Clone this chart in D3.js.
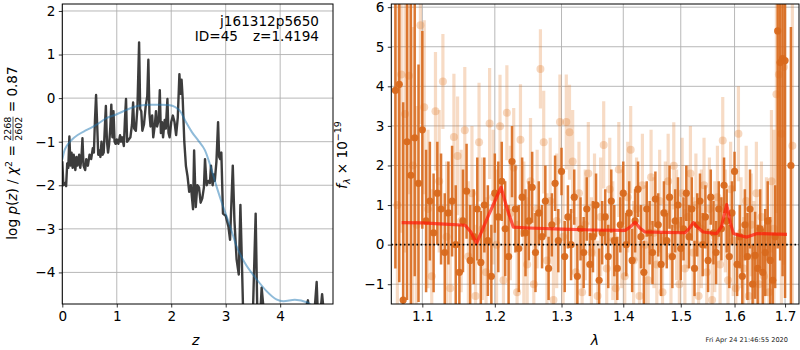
<!DOCTYPE html>
<html><head><meta charset="utf-8">
<script src="https://cdn.jsdelivr.net/npm/d3@7"></script>
<style>body{margin:0;background:#fff} text{font-family:"DejaVu Sans",sans-serif}</style>
</head><body><svg id="c" width="800" height="350"></svg>
<script>
// ---------- Left panel data: log p(z) ----------
const zPdf = [0.00,0.02,0.05,0.07,0.09,0.11,0.13,0.15,0.17,0.19,0.21,0.24,0.26,0.28,0.31,0.33,0.35,0.37,0.39,0.42,0.44,0.47,0.50,0.53,0.56,0.58,0.60,0.62,0.64,0.66,0.68,0.70,0.72,0.74,0.76,0.78,0.80,0.82,0.84,0.86,0.88,0.90,0.92,0.94,0.96,0.98,1.00,1.03,1.06,1.08,1.10,1.13,1.15,1.17,1.19,1.22,1.25,1.28,1.30,1.32,1.35,1.38,1.41,1.43,1.45,1.47,1.50,1.53,1.56,1.58,1.60,1.62,1.65,1.67,1.70,1.72,1.74,1.77,1.79,1.81,1.83,1.85,1.88,1.90,1.93,1.95,1.97,2.00,2.03,2.06,2.09,2.12,2.15,2.17,2.19,2.21,2.24,2.27,2.30,2.33,2.36,2.40,2.42,2.45,2.48,2.51,2.54,2.57,2.60,2.62,2.65,2.68,2.71,2.73,2.76,2.78,2.80,2.83,2.86,2.88,2.90,2.92,2.95,3.00,3.05,3.08,3.13,3.16,3.20,3.24,3.27,3.30,3.32,3.40,3.45,3.50,3.55,3.58,3.64,3.66,3.70,4.45,4.51,4.53,4.63,4.67,4.69,4.74,4.77,4.80,4.97];
const logPdf = [-1.45,-2.00,-1.95,-2.02,-1.50,-1.60,-0.88,-1.55,-1.25,-1.60,-1.30,-1.65,-1.35,-1.55,-1.30,-1.60,-1.40,-0.92,-1.55,-1.65,-1.40,-1.55,-1.30,-1.40,-1.15,-1.25,-0.50,0.07,-0.60,-1.30,-1.20,-1.35,-1.00,-1.30,-1.25,-0.70,-0.18,-1.00,-1.25,-1.05,-0.70,-0.15,-0.90,-0.30,-1.00,-1.05,-0.95,-1.05,-0.85,-1.00,-0.90,-1.10,-0.50,-0.02,-1.00,-0.95,-0.90,-0.60,-0.10,-0.70,-0.75,-0.20,1.28,-0.25,-0.30,-0.75,-0.60,-0.20,0.05,0.88,-0.35,-0.65,-0.40,-0.90,-0.60,-0.30,-0.65,-0.50,0.18,-0.80,-0.55,-0.90,-0.50,-0.70,-0.02,-0.80,-0.90,-0.55,-0.40,-0.55,-0.85,-0.45,0.55,0.10,0.42,0.00,-1.00,-1.56,-1.80,-2.15,-2.00,-2.55,-1.20,-2.50,-2.00,-2.05,-2.40,-2.30,-2.05,-1.40,-2.00,-1.90,-1.95,-1.55,-2.00,-1.75,-1.90,-1.45,-0.55,-1.35,-1.40,-1.25,-2.65,-2.70,-2.95,-3.25,-1.55,-2.80,-3.70,-4.05,-2.45,-3.90,-4.90,-4.90,-4.80,-4.90,-2.65,-4.90,-4.85,-4.35,-4.90,-4.90,-4.64,-4.90,-4.90,-4.22,-4.90,-4.90,-4.50,-4.90,-4.90];
const zSmooth = [0.00,0.04,0.08,0.18,0.29,0.45,0.63,0.81,1.00,1.18,1.30,1.43,1.60,1.79,1.95,2.08,2.16,2.27,2.38,2.50,2.62,2.74,2.83,2.95,3.08,3.20,3.35,3.57,3.75,3.93,4.06,4.27,4.50,4.62];
const logPSmooth = [-1.41,-1.20,-1.10,-0.95,-0.84,-0.73,-0.61,-0.46,-0.37,-0.27,-0.21,-0.17,-0.15,-0.15,-0.16,-0.21,-0.29,-0.55,-0.78,-0.98,-1.20,-1.64,-2.02,-2.48,-2.94,-3.40,-3.78,-4.16,-4.43,-4.62,-4.66,-4.63,-4.69,-4.80];
const zTicks = [0,1,2,3,4];
const pTicks = [-4,-3,-2,-1,0,1,2];

// ---------- Right panel data: spectrum ----------
const lamA = [1.065,1.070,1.075,1.080,1.085,1.090,1.095,1.100,1.105,1.110,1.115,1.120,1.125,1.130,1.135,1.140,1.145,1.150,1.155,1.160,1.165,1.170,1.175,1.180,1.185,1.190,1.195,1.200,1.205,1.210,1.215,1.220,1.225,1.230,1.235,1.240,1.245,1.250,1.255,1.260,1.265,1.270,1.275,1.280,1.285,1.290,1.295,1.300,1.305,1.310,1.315,1.320,1.325,1.330,1.335,1.340,1.345,1.350,1.355,1.360,1.365,1.370,1.375,1.380,1.385,1.390,1.395,1.400,1.405,1.410,1.415,1.420,1.425,1.430,1.435,1.440,1.445,1.450,1.455,1.460,1.465,1.470,1.475,1.480,1.485,1.490,1.495,1.500,1.505,1.510,1.515,1.520,1.525,1.530,1.535,1.540,1.545,1.550,1.555,1.560,1.565,1.570,1.575,1.580,1.585,1.590,1.595,1.600,1.605,1.610,1.615,1.620,1.625,1.630,1.635,1.640,1.645,1.650,1.655,1.660,1.665,1.670,1.675,1.680,1.685,1.690,1.695,1.700,1.712];
const fluxA = [3.9,4.05,-1.4,2.6,1.75,2.7,1.55,2.9,0.6,1.1,0.3,1.3,0.9,-0.2,0.8,1.1,0.0,-0.7,0.6,1.35,-0.4,0.2,0.9,-0.45,1.0,0.1,-0.8,1.3,0.7,1.6,0.4,-0.3,2.1,0.9,-0.1,1.2,0.3,0.6,1.45,-0.2,0.8,0.2,1.1,-0.6,0.5,1.55,0.1,1.85,-0.3,0.7,0.0,1.2,-0.8,0.4,-0.2,0.9,-0.5,0.2,1.0,-0.9,0.3,0.7,-0.3,1.1,0.1,-0.6,0.5,1.3,0.0,0.8,-0.4,0.6,1.4,0.2,-0.7,0.9,0.3,-0.2,1.15,0.5,-0.5,0.8,0.1,1.2,-0.3,0.6,1.0,-0.1,0.4,1.3,0.2,0.9,-0.6,0.5,1.1,0.0,0.7,-0.4,1.2,0.3,-0.2,0.9,0.4,1.5,0.6,-0.3,0.8,1.85,-0.5,0.2,-0.8,0.5,-0.3,0.9,-1.0,-0.27,-0.6,0.4,-0.7,-0.2,0.6,-0.4,-0.9,0.2,5.4,4.6,4.7,4.65,2.0];
const errA = [4.5,5,5,4,4.5,3.5,3,2.5,1.8,1.5,
  1.5,1.3,1.4,1.5,1.3,1.4,1.5,1.2,1.3,1.2,
  1.4,1.2,1.3,1.3,1.2,1.4,1.3,1.0,1.4,1.0,
  1.2,1.3,0.9,1.1,1.1,1.0,1.1,1.0,0.9,1.0,
  0.8,0.8,0.9,0.8,0.8,0.7,0.8,0.6,0.9,0.8,
  0.9,0.7,0.8,0.8,0.9,0.8,0.8,0.9,0.8,0.8,
  0.8,0.7,0.8,0.8,0.9,0.8,0.7,0.8,0.8,0.8,
  0.8,0.8,0.7,0.8,0.8,0.7,0.8,0.8,0.7,0.8,
  0.8,0.8,0.7,0.8,0.8,0.8,0.7,0.8,0.8,0.7,
  0.8,0.8,0.7,0.8,0.7,0.8,0.8,0.8,0.7,0.8,
  0.8,0.7,0.8,0.7,0.8,0.8,0.8,0.5,0.8,0.8,
  1.0,0.9,1.1,1.0,1.0,1.1,1.1,1.0,1.1,1.1,
  1.0,1.1,1.2,1.3,5.5,5,5.5,6,3.5];
const lamB = [1.0675,1.0725,1.0775,1.0825,1.0875,1.0925,1.0975,1.1025,1.1075,1.1125,1.1175,1.1225,1.1275,1.1325,1.1375,1.1425,1.1475,1.1525,1.1575,1.1625,1.1675,1.1725,1.1775,1.1825,1.1875,1.1925,1.1975,1.2025,1.2075,1.2125,1.2175,1.2225,1.2275,1.2325,1.2375,1.2425,1.2475,1.2525,1.2575,1.2625,1.2675,1.2725,1.2775,1.2825,1.2875,1.2925,1.2975,1.3025,1.3075,1.3125,1.3175,1.3225,1.3275,1.3325,1.3375,1.3425,1.3475,1.3525,1.3575,1.3625,1.3675,1.3725,1.3775,1.3825,1.3875,1.3925,1.3975,1.4025,1.4075,1.4125,1.4175,1.4225,1.4275,1.4325,1.4375,1.4425,1.4475,1.4525,1.4575,1.4625,1.4675,1.4725,1.4775,1.4825,1.4875,1.4925,1.4975,1.5025,1.5075,1.5125,1.5175,1.5225,1.5275,1.5325,1.5375,1.5425,1.5475,1.5525,1.5575,1.5625,1.5675,1.5725,1.5775,1.5825,1.5875,1.5925,1.5975,1.6025,1.6075,1.6125,1.6175,1.6225,1.6275,1.6325,1.6375,1.6425,1.6475,1.6525,1.6575,1.6625,1.6675,1.6725,1.6775,1.6825,1.6875,1.6925,1.6975,1.7150];
const fluxB = [1.0,4.3,3.3,4.27,2.0,0.5,5.54,3.47,0.9,-0.8,3.37,1.6,4.12,0.2,-1.1,2.72,2.24,0.6,2.89,-0.3,1.3,-1.3,2.59,0.4,-0.7,3.06,1.2,0.0,2.99,-0.9,3.33,0.8,1.95,-1.2,2.65,0.3,-0.5,1.6,-1.0,0.9,4.44,2.59,-0.4,1.1,-1.4,0.6,3.1,0.2,3.1,2.84,2.1,-0.7,1.3,-1.2,0.5,1.8,-0.2,1.0,-1.3,0.7,2.52,-0.6,1.4,0.1,-1.1,1.9,0.4,-0.8,1.2,2.4,-0.4,0.9,-1.3,1.5,0.0,-0.9,1.7,0.3,-0.5,1.1,-1.2,0.8,1.6,-0.3,1.99,0.5,-1.0,1.3,-0.6,0.7,1.8,-0.2,1.0,-1.3,0.4,1.5,-0.7,0.9,-1.4,0.2,1.2,-0.5,2.63,0.6,-0.9,1.4,0.1,-1.1,2.8,0.3,-0.6,1.1,-1.3,0.5,-0.3,1.3,-1.0,0.7,-0.8,0.2,-1.2,1.6,0.4,3.8,4.3,2.8,4.49,2.5];
const errB = [5.5,4,3.5,3,3.5,3,2.5,2.2,2.0,2.2,
  1.5,1.8,1.2,1.9,1.8,1.6,1.5,1.8,1.6,1.9,
  1.7,1.8,1.5,1.8,1.9,1.4,1.7,1.9,1.3,1.8,
  1.2,1.7,1.5,1.8,1.4,1.8,1.7,1.6,1.8,1.5,
  1.0,1.3,1.7,1.6,1.8,1.7,1.2,1.7,
  1.2,1.2,1.3,1.4,1.3,1.5,1.4,1.3,1.4,1.3,
  1.4,1.5,1.1,1.4,1.3,1.5,1.4,1.2,1.5,1.3,
  1.4,1.1,1.5,1.3,1.4,1.3,1.5,1.3,1.2,1.4,
  1.5,1.3,1.4,1.3,1.2,1.5,1.1,1.4,1.3,1.4,
  1.5,1.3,1.2,1.4,1.3,1.4,1.5,1.2,1.4,1.3,
  1.5,1.4,1.3,1.4,1.1,1.3,1.5,1.2,1.4,1.3,
  1.2,1.4,1.3,1.4,1.5,1.3,1.4,1.3,1.5,1.4,
  1.3,1.5,1.4,1.8,
  2.5,3,4,5,5,4];
const lamModel = [1.073,1.100,1.130,1.158,1.166,1.174,1.190,1.209,1.218,1.227,1.250,1.300,1.350,1.403,1.412,1.420,1.428,1.437,1.470,1.508,1.516,1.523,1.532,1.541,1.566,1.575,1.585,1.592,1.598,1.610,1.624,1.644,1.670,1.704];
const fluxModel = [0.555,0.55,0.52,0.49,0.32,0.03,0.70,1.45,0.90,0.44,0.42,0.39,0.37,0.36,0.45,0.57,0.42,0.32,0.31,0.30,0.42,0.555,0.42,0.32,0.28,0.45,1.01,0.55,0.28,0.23,0.19,0.28,0.27,0.26];
const lamTicks = [1.1,1.2,1.3,1.4,1.5,1.6,1.7];
const fTicks = [-1,0,1,2,3,4,5,6];

const svg = d3.select("#c");
const FS = 13.6;
const fmtMinus = d => String(d).replace("-", "\u2212");

function drawGrid(g, x, y, xt, yt, L, R, T, B) {
  g.append("g").selectAll("line").data(xt).join("line")
    .attr("x1", d => x(d)).attr("x2", d => x(d)).attr("y1", T).attr("y2", B)
    .attr("stroke", "#b0b0b0").attr("stroke-width", 0.9);
  g.append("g").selectAll("line").data(yt).join("line")
    .attr("y1", d => y(d)).attr("y2", d => y(d)).attr("x1", L).attr("x2", R)
    .attr("stroke", "#b0b0b0").attr("stroke-width", 0.9);
}
function drawFrame(g, x, y, xt, yt, xf, yf, L, R, T, B) {
  const ax = g.append("g").attr("transform", `translate(0,${B})`)
    .call(d3.axisBottom(x).tickValues(xt).tickFormat(xf).tickSize(3.5).tickPadding(3.5));
  const ay = g.append("g").attr("transform", `translate(${L},0)`)
    .call(d3.axisLeft(y).tickValues(yt).tickFormat(yf).tickSize(3.5).tickPadding(3.5));
  [ax, ay].forEach(a => {
    a.select(".domain").remove();
    a.selectAll("text").attr("font-size", FS).attr("fill", "#000").attr("font-family", "DejaVu Sans");
    a.selectAll("line").attr("stroke", "#000").attr("stroke-width", 0.8);
  });
  g.append("rect").attr("x", L).attr("y", T).attr("width", R - L).attr("height", B - T)
    .attr("fill", "none").attr("stroke", "#000").attr("stroke-width", 1);
}

// ---------- Left panel ----------
const L1 = 62.3, R1 = 333, T1 = 4, B1 = 304;
const xL = d3.scaleLinear().domain([0, 4.97]).range([L1, R1]);
const yL = d3.scaleLinear().domain([-4.725, 2.16]).range([B1, T1]);
const gL = svg.append("g");
drawGrid(gL, xL, yL, zTicks, pTicks, L1, R1, T1, B1);
svg.append("clipPath").attr("id", "clipL").append("rect")
  .attr("x", L1).attr("y", T1).attr("width", R1 - L1).attr("height", B1 - T1);
const gLd = gL.append("g").attr("clip-path", "url(#clipL)");
const pdfPts = zPdf.map((z, i) => [z, logPdf[i]]);
const smPts = zSmooth.map((z, i) => [z, logPSmooth[i]]);
gLd.append("path").datum(pdfPts)
  .attr("d", d3.line().x(d => xL(d[0])).y(d => yL(d[1])))
  .attr("fill", "none").attr("stroke", "#333").attr("stroke-opacity", 0.95)
  .attr("stroke-width", 2.4).attr("stroke-linejoin", "round");
gLd.append("path").datum(smPts)
  .attr("d", d3.line().curve(d3.curveMonotoneX).x(d => xL(d[0])).y(d => yL(d[1])))
  .attr("fill", "none").attr("stroke", "#1f77b4").attr("stroke-opacity", 0.5)
  .attr("stroke-width", 2);
drawFrame(gL, xL, yL, zTicks, pTicks, d => String(d), fmtMinus, L1, R1, T1, B1);

gL.append("text").attr("x", 319).attr("y", 26).attr("text-anchor", "end")
  .attr("font-size", FS).text("j161312p5650");
gL.append("text").attr("x", 238).attr("y", 41).attr("text-anchor", "end")
  .attr("font-size", FS).text("ID=45");
gL.append("text").attr("x", 319).attr("y", 41).attr("text-anchor", "end")
  .attr("font-size", FS).text("z=1.4194");
gL.append("text").attr("x", xL(2.45)).attr("y", 345).attr("text-anchor", "middle")
  .attr("font-size", FS + 0.5).attr("font-style", "italic").text("z");

// left y label with fraction
(function () {
  const g = svg.append("g").attr("transform", "translate(17,153) rotate(-90)");
  const inner = g.append("g");
  let cx = 0;
  function seg(t, opts) {
    opts = opts || {};
    const el = inner.append("text").attr("x", cx).attr("y", opts.dy || 0)
      .attr("font-size", opts.fs || FS).style("white-space", "pre")
      .attr("font-style", opts.it ? "italic" : "normal").text(t);
    const w = el.node().getComputedTextLength();
    if (!opts.noadv) cx += w;
    return w;
  }
  seg("log\u00a0");
  seg("p", { it: true });
  seg("(");
  seg("z", { it: true });
  seg(")\u00a0/\u00a0");
  seg("\u03c7", { it: true });
  seg("2", { fs: 9.5, dy: -5 });
  seg("\u00a0=\u00a0");
  const fx = cx;
  const w1 = seg("2268", { fs: 9.5, dy: -6, noadv: true });
  inner.append("text").attr("x", fx).attr("y", 5).attr("font-size", 9.5).text("2602");
  inner.append("line").attr("x1", fx).attr("x2", fx + w1).attr("y1", -4).attr("y2", -4)
    .attr("stroke", "#000").attr("stroke-width", 0.7);
  cx += w1;
  seg("\u00a0=\u00a00.87");
  inner.attr("transform", `translate(${-cx / 2},0)`);
})();

// ---------- Right panel ----------
const L2 = 391.3, R2 = 799, T2 = 4, B2 = 304;
const xR = d3.scaleLog().domain([1.0598, 1.7287]).range([L2, R2]);
const yR = d3.scaleLinear().domain([-1.5, 6.08]).range([B2, T2]);
const gR = svg.append("g");
drawGrid(gR, xR, yR, lamTicks, fTicks, L2, R2, T2, B2);
svg.append("clipPath").attr("id", "clipR").append("rect")
  .attr("x", L2).attr("y", T2).attr("width", R2 - L2).attr("height", B2 - T2);
const gRd = gR.append("g").attr("clip-path", "url(#clipR)");

const specB = lamB.map((l, i) => ({ l, f: fluxB[i], e: errB[i] }));
const specA = lamA.map((l, i) => ({ l, f: fluxA[i], e: errA[i] }));
const orange = "#e07a2a";
gRd.append("g").selectAll("line").data(specB).join("line")
  .attr("x1", d => xR(d.l)).attr("x2", d => xR(d.l))
  .attr("y1", d => yR(d.f - d.e)).attr("y2", d => yR(d.f + d.e))
  .attr("stroke", orange).attr("stroke-opacity", 0.27).attr("stroke-width", 3.2);
gRd.append("g").selectAll("circle").data(specB).join("circle")
  .attr("cx", d => xR(d.l)).attr("cy", d => yR(d.f)).attr("r", 4)
  .attr("fill", orange).attr("fill-opacity", 0.3);
gRd.append("g").selectAll("line").data(specA).join("line")
  .attr("x1", d => xR(d.l)).attr("x2", d => xR(d.l))
  .attr("y1", d => yR(d.f - d.e)).attr("y2", d => yR(d.f + d.e))
  .attr("stroke", "#d8691c").attr("stroke-opacity", 0.9).attr("stroke-width", 2.5);
gRd.append("g").selectAll("circle").data(specA).join("circle")
  .attr("cx", d => xR(d.l)).attr("cy", d => yR(d.f)).attr("r", 3.6)
  .attr("fill", "#d8691c").attr("fill-opacity", 0.95);
const modelPts = lamModel.map((l, i) => [l, fluxModel[i]]);
gRd.append("path").datum(modelPts)
  .attr("d", d3.line().x(d => xR(d[0])).y(d => yR(d[1])))
  .attr("fill", "none").attr("stroke", "#ff1a0a").attr("stroke-opacity", 0.72)
  .attr("stroke-width", 3.2).attr("stroke-linejoin", "round");
gRd.append("line").attr("x1", L2).attr("x2", R2).attr("y1", yR(0)).attr("y2", yR(0))
  .attr("stroke", "#000").attr("stroke-width", 1.6).attr("stroke-dasharray", "1.6,2.6");
drawFrame(gR, xR, yR, lamTicks, fTicks, d => d.toFixed(1), fmtMinus, L2, R2, T2, B2);

gR.append("text").attr("x", 595).attr("y", 345).attr("text-anchor", "middle")
  .attr("font-size", FS + 0.5).attr("font-style", "italic").text("\u03bb");

// right y label
(function () {
  const g = svg.append("g").attr("transform", "translate(347,155) rotate(-90)");
  const inner = g.append("g");
  let cx = 0;
  function seg(t, opts) {
    opts = opts || {};
    const el = inner.append("text").attr("x", cx).attr("y", opts.dy || 0)
      .attr("font-size", opts.fs || FS).style("white-space", "pre")
      .attr("font-style", opts.it ? "italic" : "normal").text(t);
    cx += el.node().getComputedTextLength();
  }
  seg("f", { it: true });
  seg("\u03bb", { it: true, fs: 9.5, dy: 3 });
  seg("\u00a0\u00d7\u00a010");
  seg("\u221219", { fs: 9.5, dy: -6 });
  inner.attr("transform", `translate(${-cx / 2},0)`);
})();

svg.append("text").attr("x", 788).attr("y", 342).attr("text-anchor", "end")
  .attr("font-size", 6.6).attr("fill", "#222").text("Fri Apr 24 21:46:55 2020");
</script></body></html>
